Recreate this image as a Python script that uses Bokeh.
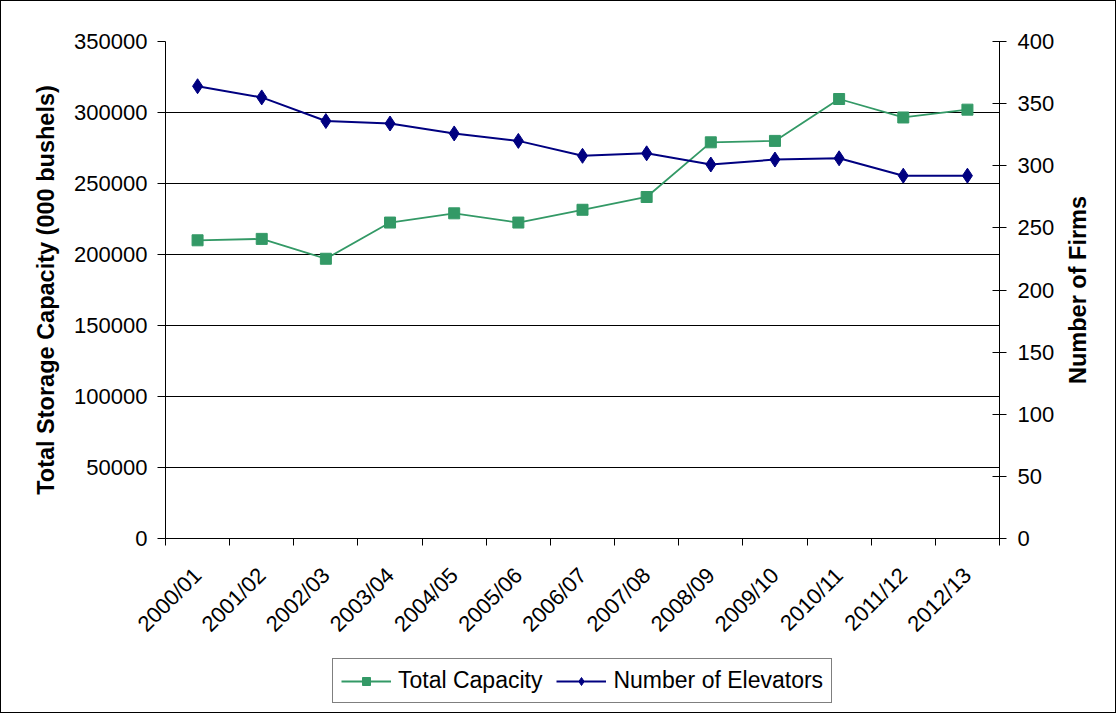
import math
from bokeh.plotting import figure
from bokeh.layouts import column, row
from bokeh.models import Range1d, LinearAxis, FixedTicker, Legend, LegendItem, BasicTickFormatter
from bokeh.embed import file_html
from bokeh.resources import INLINE

seasons = ["2000/01", "2001/02", "2002/03", "2003/04", "2004/05", "2005/06", "2006/07",
           "2007/08", "2008/09", "2009/10", "2010/11", "2011/12", "2012/13"]
total_capacity = [210000, 211000, 197000, 222500, 229000, 222500, 231500,
                  240500, 279000, 280000, 309500, 296500, 302000]
elevators = [364, 355, 336, 334, 326, 320, 308, 310, 301, 305, 306, 292, 292]
capacity_ticks = [0, 50000, 100000, 150000, 200000, 250000, 300000, 350000]
firm_ticks = [0, 50, 100, 150, 200, 250, 300, 350, 400]
series_names = ["Total Capacity", "Number of Elevators"]

GREEN = "#339966"
NAVY = "#000080"
FONT = "Liberation Sans"
FS = "22px"
TITLE_FS = "23.5px"

xs = list(range(len(seasons)))
bounds = [i - 0.5 for i in range(len(seasons) + 1)]

p = figure(width=1060, height=650, output_backend="svg", toolbar_location=None,
           x_range=Range1d(-0.5, len(seasons) - 0.5), y_range=Range1d(0, 350000),
           min_border_left=164, min_border_right=62, min_border_top=40,
           min_border_bottom=113)
p.outline_line_color = None
p.background_fill_color = "white"
p.extra_y_ranges = {"firms": Range1d(0, 400)}

# grid
p.xgrid.visible = False
p.ygrid.ticker = FixedTicker(ticks=capacity_ticks)
p.ygrid.grid_line_color = "black"
p.ygrid.grid_line_width = 1

# x axis
xa = p.xaxis[0]
xa.ticker = FixedTicker(ticks=xs, minor_ticks=bounds)
xa.major_label_overrides = {i: s for i, s in enumerate(seasons)}
xa.major_tick_in = 0
xa.major_tick_out = 0
xa.minor_tick_in = 0
xa.minor_tick_out = 7
xa.minor_tick_line_color = "black"
xa.axis_line_color = "black"
xa.major_label_orientation = math.pi / 4
xa.major_label_standoff = 26
xa.major_label_text_font = FONT
xa.major_label_text_font_size = FS
xa.major_label_text_color = "black"

# left axis
ya = p.yaxis[0]
ya.ticker = FixedTicker(ticks=capacity_ticks)
ya.formatter = BasicTickFormatter(use_scientific=False)
ya.major_tick_in = 0
ya.major_tick_out = 8
ya.minor_tick_out = 0
ya.minor_tick_in = 0
ya.axis_line_color = "black"
ya.major_tick_line_color = "black"
ya.major_label_standoff = 10
ya.major_label_text_font = FONT
ya.major_label_text_font_size = FS
ya.major_label_text_color = "black"
ya.axis_label = "Total Storage Capacity (000 bushels)"
ya.axis_label_text_font = FONT
ya.axis_label_text_font_size = TITLE_FS
ya.axis_label_text_font_style = "bold"
ya.axis_label_text_color = "black"
ya.axis_label_standoff = 12

# right axis (ticks and numbers)
ra = LinearAxis(y_range_name="firms", ticker=FixedTicker(ticks=firm_ticks))
ra.major_tick_in = 7
ra.major_tick_out = 7
ra.minor_tick_in = 0
ra.minor_tick_out = 0
ra.axis_line_color = "black"
ra.major_tick_line_color = "black"
ra.major_label_standoff = 11
ra.major_label_text_font = FONT
ra.major_label_text_font_size = FS
ra.major_label_text_color = "black"
p.add_layout(ra, "right")

# series
p.line(xs, total_capacity, line_color=GREEN, line_width=1.8)
p.scatter(xs, total_capacity, marker="square", size=11, fill_color=GREEN, line_color=GREEN)
p.line(xs, elevators, line_color=NAVY, line_width=2, y_range_name="firms")
p.scatter(xs, elevators, marker="diamond", size=15, fill_color=NAVY, line_color=NAVY,
          y_range_name="firms")

# narrow strip carrying the right-hand axis title (reads bottom-to-top, centred)
r = figure(width=54, height=650, output_backend="svg", toolbar_location=None,
           x_range=Range1d(0, 1), y_range=Range1d(0, 400),
           min_border_left=33, min_border_right=0, min_border_top=40,
           min_border_bottom=113)
r.outline_line_color = None
r.grid.visible = False
r.xaxis.visible = False
rt = r.yaxis[0]
rt.ticker = FixedTicker(ticks=[])
rt.major_tick_in = 0
rt.major_tick_out = 0
rt.minor_tick_in = 0
rt.minor_tick_out = 0
rt.major_label_standoff = 0
rt.axis_line_color = None
rt.axis_label = "Number of Firms"
rt.axis_label_text_font = FONT
rt.axis_label_text_font_size = TITLE_FS
rt.axis_label_text_font_style = "bold"
rt.axis_label_text_color = "black"
rt.axis_label_standoff = 4

# legend strip (its series sit outside its ranges, only the keys show)
q = figure(width=1114, height=61, output_backend="svg", toolbar_location=None,
           x_range=Range1d(0, 1), y_range=Range1d(0, 1),
           min_border_left=164, min_border_right=116, min_border_top=0, min_border_bottom=0)
q.axis.visible = False
q.grid.visible = False
q.outline_line_color = None
kl1 = q.line(xs, total_capacity, line_color=GREEN, line_width=1.8)
km1 = q.scatter(xs, total_capacity, marker="square", size=9, fill_color=GREEN, line_color=GREEN)
kl2 = q.line(xs, elevators, line_color=NAVY, line_width=2)
km2 = q.scatter(xs, elevators, marker="diamond", size=13, fill_color=NAVY, line_color=NAVY)

legend = Legend(items=[LegendItem(label=series_names[0], renderers=[kl1, km1]),
                       LegendItem(label=series_names[1], renderers=[kl2, km2])],
                orientation="horizontal", location=(167, 9))
legend.label_text_font = FONT
legend.label_text_font_size = "23px"
legend.label_text_color = "black"
legend.glyph_width = 50
legend.glyph_height = 20
legend.label_height = 20
legend.label_standoff = 7
legend.spacing = 14
legend.padding = 8
legend.margin = 0
legend.border_line_color = "black"
legend.border_line_width = 1
legend.background_fill_color = "white"
q.add_layout(legend)

layout = column(row(p, r, spacing=0), q, spacing=0)
layout.styles = {"border": "1px solid black"}

open("out.html", "w").write(file_html(layout, INLINE))
